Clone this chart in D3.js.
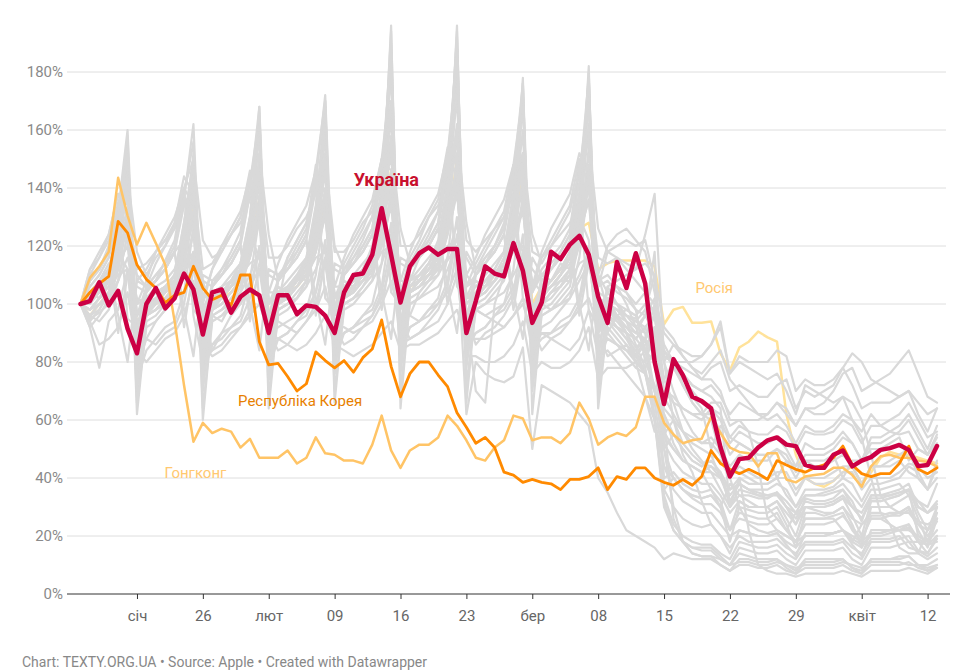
<!DOCTYPE html>
<html><head><meta charset="utf-8">
<script src="https://cdn.jsdelivr.net/npm/d3@7"></script>
<style>
html,body{margin:0;padding:0;background:#fff;}
svg{display:block;font-family:Roboto,"Noto Sans",sans-serif;}
</style></head>
<body><svg id="chart" width="976" height="671"></svg>
<script>
// ---------- DATA ----------
const startDate = new Date(2020, 0, 13);
const endDate = new Date(2020, 3, 13);
const dates = d3.timeDay.range(startDate, d3.timeDay.offset(endDate, 1));

const yTicks = [0, 20, 40, 60, 80, 100, 120, 140, 160, 180];
const xTickDates = [new Date(2020,0,19), new Date(2020,0,26), new Date(2020,1,2), new Date(2020,1,9),
  new Date(2020,1,16), new Date(2020,1,23), new Date(2020,2,1), new Date(2020,2,8), new Date(2020,2,15),
  new Date(2020,2,22), new Date(2020,2,29), new Date(2020,3,5), new Date(2020,3,12)];
const xTickLabels = ["січ","26","лют","09","16","23","бер","08","15","22","29","квіт","12"];

const ukraine = [
100,101,107.5,99.5,104.5,91.5,83,
100,105.5,98.5,102,110.5,105,89.5,
104,105,97,102.5,105,103,90,
103,103,96.5,99.5,99,96,90,
104,110,110.5,117,133,117,100.5,
113,117.5,119.5,117,119,119,90,
101,113,110.5,109.5,121,111.5,93.5,
100.5,118,115.5,120.5,123.5,117,102.5,
93.5,114.5,105.5,117.5,107,80,65.5,
81,75.5,68,66.5,64,50.5,40.5,
46.5,47,50.5,53,54,51.5,51,
44.5,43.5,43.5,48,49.5,44,46,
47.2,49.7,50.3,51.4,49.7,44.1,44.5,
51];

const korea = [
100,104,107,109.5,128.5,124.5,113.5,
108.5,105.5,100.5,103,104,113,105.5,
101.5,103,99.5,110,110,87,79,
79.5,75,70,72.5,83.5,80.5,78,
80.5,76.5,81.5,84.5,94.5,78.5,68,
76,80,80,75.5,71.5,62.5,57.5,
52,54,50.5,42,41,38.5,39.5,
38.5,38,36,39.5,39.5,40.5,43.5,
36,40.5,39.5,43.5,43.5,40,38.5,
37.5,39.5,37.5,40.5,49.5,45,43,
41.5,43,41.5,39.5,46,44.5,43,
42,43.5,44.5,47,51,44.5,41.5,
40.5,41.5,41.5,45,51,43,41.5,
43.5];

const hongKong = [
100,109,113,118,143.5,130.5,120.5,
128,121,113.5,94,72,52.5,59,
55.5,57,56,50.5,53.5,47,47,
47,49.5,45,47,54,48.5,48,
46,46,45,51.5,61.5,49.5,43.5,
49.5,51.5,51.5,54,61.5,58,53,
47,46,50.5,53,61.5,60.5,53,
54,54,52,55.5,66,60.5,51.5,
54,55.5,54.5,57.5,68,68,59,
55,52,53,53.5,61,55.5,50.5,
49,48.5,44,48.5,48.5,39.5,38.5,
40.5,41,41.5,43.5,43.5,41,37,
44,47.5,48,47,47,46,45.5,
44];

const russia = [
100,96,100,104,114,130,92,
98,100,102,106,116,134,94,
100,102,104,108,118,136,96,
102,104,106,110,120,138,98,
104,106,108,112,124,146,100,
106,108,110,114,126,150,102,
104,106,110,114,124,144,100,
106,108,112,116,126,128,112,
114,115,115,115,115,113,93,
98,99,93.5,93.5,94,83,77,
85,87,90.5,88.5,87,62,48,
40,38,37,39,42,44,38,
42,47,49,48,48,47,46,
45];

// other countries (grey)
const grey01 = [100,104,106,112,125,158,72, 98,102,105,110,128,150,70, 100,103,108,114,130,165,74, 102,104,109,115,133,168,76, 104,108,112,120,140,190,78, 106,110,114,122,142,192,80, 104,108,112,118,138,175,78, 102,106,110,116,132,178,76, 98,95,92,90,96,118,50, 55,50,46,44,46,42,30, 36,35,34,34,35,30,24, 33,32,32,33,36,32,25, 34,34,35,36,38,30,28, 30];
const grey02 = [100,98,102,108,120,140,78, 96,100,104,108,122,138,74, 98,102,106,112,126,150,76, 100,103,108,112,128,152,80, 102,105,110,116,134,170,82, 104,108,112,118,136,172,84, 102,106,110,114,130,160,80, 100,104,108,112,128,162,78, 96,92,90,85,88,100,55, 60,52,48,45,44,40,32, 38,36,35,34,34,30,26, 32,31,31,32,34,30,26, 33,33,34,35,36,30,28, 31];
const grey03 = [100,103,105,108,118,145,75, 97,101,104,107,120,142,72, 99,102,106,110,124,150,74, 101,104,108,112,128,158,78, 103,106,110,114,132,165,80, 104,108,110,112,115,120,62, 80,76,74,73,75,85,50, 72,70,68,66,62,58,40, 35,28,22,20,18,16,12, 14,13,12,12,12,10,8, 10,10,9,9,10,8,7, 9,9,9,9,10,8,7, 10,10,10,10,11,9,8, 9];
const grey04 = [100,102,104,110,122,150,85, 98,100,104,108,124,148,82, 100,102,106,112,128,160,86, 102,104,108,114,132,165,88, 104,106,110,116,136,180,90, 106,108,112,118,140,185,92, 104,106,110,116,136,170,88, 104,108,112,118,138,175,90, 100,98,96,95,90,60,30, 22,18,16,15,15,12,10, 14,13,12,12,12,10,8, 12,12,12,12,12,9,8, 12,12,12,13,13,10,9, 10];
const grey05 = [100,110,112,120,135,95,92, 105,108,115,122,140,98,94, 106,112,118,125,145,100,96, 108,114,120,126,148,102,98, 110,116,122,130,150,104,100, 112,118,124,132,152,106,102, 110,116,120,128,145,102,98, 106,112,116,122,138,98,92, 100,96,90,82,88,70,62, 55,50,46,44,48,40,36, 38,36,34,33,35,30,28, 30,29,28,28,30,26,24, 28,28,27,27,29,25,24, 26];
const grey06 = [100,98,102,104,112,128,96, 100,100,104,106,114,130,98, 102,104,106,108,116,132,100, 104,105,108,110,118,134,102, 106,108,110,112,120,138,104, 104,106,108,110,116,128,98, 98,96,94,92,96,102,84, 90,88,86,84,88,98,82, 88,86,84,84,88,96,80, 86,84,82,82,86,92,76, 80,78,76,74,76,70,62, 72,70,68,66,68,60,56, 62,58,56,55,56,50,48, 55];
const grey07 = [100,104,108,112,118,126,110, 106,110,114,118,122,130,108, 96,94,100,104,110,118,102, 98,100,102,106,112,120,104, 100,102,104,108,114,124,106, 100,102,104,106,112,120,104, 98,100,102,104,110,116,100, 96,98,100,102,108,114,98, 94,92,90,88,92,96,82, 80,78,76,74,78,80,70, 72,70,68,68,72,74,64, 70,68,70,72,78,83,80, 74,72,70,68,70,66,62, 64];
const grey08 = [100,92,96,102,118,125,90, 88,94,98,104,120,130,92, 96,98,100,106,124,132,94, 98,100,102,108,126,135,96, 100,102,106,112,132,140,100, 96,104,108,114,134,142,102, 102,104,108,112,130,138,98, 104,106,110,116,134,144,104, 102,100,96,94,92,82,68, 62,56,52,50,48,46,40, 44,42,40,40,42,42,36, 40,38,38,39,42,42,36, 40,40,40,42,45,44,40, 42];
const grey09 = [100,102,106,112,124,140,80, 98,100,104,110,126,142,82, 100,102,106,112,128,146,84, 100,104,108,114,132,150,86, 102,106,110,116,136,158,88, 104,108,112,118,138,162,90, 102,106,108,114,134,152,86, 104,108,112,118,138,160,90, 106,108,110,112,124,138,82, 80,72,66,62,60,48,40, 30,24,22,21,22,20,18, 20,20,20,21,22,19,17, 20,20,21,22,23,18,17, 18];
const grey10 = [100,103,107,112,126,155,82, 100,102,106,110,128,150,80, 102,104,108,114,130,160,84, 102,106,110,116,134,162,86, 104,108,112,118,138,170,90, 106,110,114,120,142,178,88, 104,108,112,118,138,172,86, 104,106,110,116,136,170,84, 100,98,96,94,98,110,60, 26,18,14,13,13,10,8, 12,12,11,11,12,9,7, 11,11,11,11,12,9,7, 12,12,12,12,13,10,8, 10];
const grey11 = [100,102,104,108,120,140,88, 98,100,104,108,122,142,86, 100,102,106,110,124,145,90, 100,104,106,112,126,148,92, 102,106,108,114,130,155,94, 104,108,110,116,132,158,96, 102,106,108,114,128,150,92, 100,104,106,112,126,148,90, 96,94,92,88,92,96,70, 68,64,62,60,64,62,54, 58,56,55,55,58,56,50, 56,55,55,56,60,58,52, 58,58,60,62,66,60,54, 56];
const grey12 = [100,96,98,104,116,150,62, 94,96,100,104,118,152,60, 96,98,102,106,122,168,64, 98,100,104,108,124,170,66, 100,102,106,110,130,196,64, 102,104,108,112,132,196,66, 100,102,106,110,128,178,62, 98,100,104,108,126,182,64, 94,90,86,82,80,92,36, 40,36,34,33,34,30,18, 30,29,28,28,30,24,16, 28,28,27,28,30,24,16, 30,30,30,32,34,26,18, 28];
const grey13 = [100,95,97,100,112,146,66, 92,94,98,102,116,148,64, 94,96,100,104,118,160,68, 96,98,102,106,120,162,70, 98,100,104,108,126,186,70, 100,102,106,110,128,188,72, 98,100,104,108,124,170,70, 96,98,102,106,122,172,70, 92,88,84,80,78,84,40, 42,38,36,35,36,32,22, 32,30,30,30,32,26,20, 30,30,30,31,33,27,20, 32,32,33,34,36,28,22, 30];
const grey14 = [100,106,110,116,130,138,96, 104,108,112,118,134,140,98, 106,110,114,120,138,144,100, 108,112,116,122,140,148,102, 110,114,118,124,144,152,104, 108,116,120,126,146,156,106, 110,114,118,124,142,150,104, 112,116,120,126,148,158,108, 110,106,100,92,84,70,56, 50,46,44,42,42,40,34, 38,36,36,36,38,36,30, 36,36,36,37,40,38,32, 38,38,39,40,44,42,36, 40];
const grey15 = [100,102,104,108,118,112,86, 100,104,106,110,122,114,88, 102,104,108,112,124,116,90, 104,106,110,114,126,118,92, 106,108,112,116,130,120,94, 108,110,114,118,134,140,96, 70,66,100,110,126,118,90, 106,108,112,116,130,122,94, 104,106,104,100,104,96,74, 66,56,50,46,42,36,30, 34,34,33,33,35,32,28, 34,34,35,36,38,34,30, 36,36,37,38,34,32,30, 38];
const grey16 = [100,100,104,108,118,128,84, 98,102,104,108,120,130,86, 100,104,106,110,122,134,88, 102,104,108,112,124,136,90, 104,106,110,114,128,140,92, 106,108,112,116,130,144,94, 104,108,110,114,128,140,92, 104,106,110,116,130,142,94, 102,100,98,96,84,70,52, 46,42,40,38,38,34,28, 32,30,30,30,32,28,24, 30,30,30,31,33,30,26, 32,32,33,34,36,32,28, 32];
const grey17 = [100,108,112,118,128,136,108, 112,118,122,126,134,140,112, 114,120,124,128,136,142,116, 116,120,126,130,138,146,118, 118,122,128,132,140,150,120, 120,124,130,134,142,152,122, 118,122,126,130,138,146,118, 116,120,124,128,136,144,116, 114,116,112,108,104,100,84, 80,74,70,66,64,60,52, 56,54,52,52,54,50,44, 52,50,50,52,56,52,46, 54,54,56,58,62,56,50, 58];
const grey18 = [100,92,78,94,98,112,78, 88,86,90,92,100,118,80, 86,88,92,94,102,120,82, 88,90,94,96,104,122,84, 90,92,96,98,106,128,86, 92,94,98,100,108,130,88, 90,92,96,98,104,124,84, 88,90,94,96,102,120,82, 84,80,76,72,68,60,44, 36,32,30,28,28,24,20, 22,21,20,20,21,18,16, 20,20,20,21,22,18,16, 21,21,22,22,24,19,17, 20];
const grey19 = [100,98,100,102,108,116,102, 100,102,104,106,112,118,100, 84,86,90,92,96,100,90, 88,86,84,86,90,96,86, 84,82,84,86,90,94,84, 86,86,88,90,94,98,88, 88,88,90,92,96,100,90, 90,90,92,94,98,102,92, 88,86,84,82,86,90,82, 80,76,72,70,72,68,62, 66,64,62,62,66,62,58, 64,62,62,64,68,66,60, 48,34,30,28,28,24,22, 26];
const grey20 = [100,104,106,110,122,130,92, 102,106,108,112,124,132,94, 104,106,110,114,126,136,96, 104,108,112,116,128,138,98, 106,110,114,118,132,144,100, 108,112,116,120,134,146,102, 106,110,114,118,130,140,98, 106,108,112,116,130,142,98, 104,100,96,92,90,86,70, 66,64,62,62,66,66,58, 60,60,60,62,66,64,58, 64,64,66,70,76,78,70, 72,74,76,80,84,76,68, 66];
const grey21 = [100,102,104,106,110,112,100, 102,104,106,108,112,114,102, 104,106,108,110,114,116,104, 104,106,108,110,116,118,106, 106,108,110,112,118,120,108, 108,110,112,114,120,122,110, 106,108,110,112,118,120,108, 104,106,108,108,114,116,100, 90,96,98,96,100,98,86, 80,76,72,70,68,64,30, 40,22,10,8,7,7,6, 7,7,7,7,8,7,6, 8,8,8,8,9,8,7, 9];
const grey22 = [100,104,108,114,90,110,106, 104,108,112,118,92,112,108, 106,110,114,120,94,114,110, 108,112,116,122,96,116,112, 110,114,118,124,98,118,114, 112,116,120,126,100,120,116, 110,114,118,124,98,118,112, 108,112,116,120,96,114,110, 104,106,104,98,80,90,84, 78,72,68,64,50,58,54, 52,50,48,48,40,46,44, 46,46,46,48,40,46,46, 50,50,52,54,46,50,48, 52];
const grey23 = [100,96,100,104,114,132,76, 96,98,102,106,118,136,78, 98,100,104,108,120,142,80, 100,102,106,110,122,146,82, 102,104,108,112,126,156,84, 104,106,110,114,128,160,86, 102,104,108,112,124,150,82, 100,104,106,110,122,154,84, 98,96,92,88,84,80,50, 40,36,33,31,31,28,22, 26,25,24,24,26,22,18, 24,24,24,25,27,23,19, 26,26,27,28,30,24,20, 25];
const grey24 = [100,98,102,106,120,152,70, 96,98,102,106,122,150,72, 98,100,104,108,126,166,74, 100,102,106,110,128,168,76, 102,104,108,112,134,194,76, 104,106,110,114,136,194,78, 102,104,108,112,132,176,74, 100,102,106,110,130,180,74, 96,92,88,84,76,60,32, 22,18,16,16,16,13,10, 16,15,14,14,15,12,10, 15,15,15,15,16,12,10, 16,16,16,17,18,14,12, 14];
const grey25 = [100,104,106,108,116,126,90, 100,104,106,110,118,128,92, 102,104,108,112,120,130,94, 102,106,108,112,122,132,96, 104,108,110,114,126,136,98, 106,108,112,116,128,140,100, 104,108,110,114,124,134,96, 104,106,110,114,124,136,96, 100,98,94,90,88,82,64, 60,56,54,52,54,50,44, 48,46,46,46,50,48,42, 48,48,48,50,54,52,46, 52,52,54,56,60,54,48, 54];
const grey26 = [100,108,112,118,124,132,112, 114,118,124,130,140,96,80, 84,90,96,100,106,112,96, 94,92,90,94,98,106,92, 92,90,92,94,100,108,94, 96,94,96,100,104,112,98, 98,96,98,100,106,114,100, 100,98,100,104,110,118,102, 100,96,94,92,96,102,90, 86,82,78,76,80,84,74, 70,66,62,60,62,58,52, 58,56,56,58,62,60,54, 40,28,24,22,22,20,18, 22];
const grey27 = [100,110,116,124,138,132,96, 106,114,120,128,144,138,100, 112,118,124,130,146,140,102, 100,116,122,128,142,136,98, 114,120,126,134,150,146,104, 116,122,130,136,154,148,106, 114,120,126,132,148,142,104, 116,122,128,134,150,146,106, 118,120,122,120,122,108,82, 80,72,66,62,62,56,48, 52,50,48,48,50,46,40, 46,44,44,46,48,44,38, 44,44,44,46,42,40,36, 44];
const grey28 = [100,94,86,88,92,104,84, 80,84,88,90,96,108,86, 82,84,88,92,98,112,90, 84,86,90,94,100,114,92, 86,88,92,96,104,120,94, 88,90,94,98,106,124,96, 86,90,92,96,102,118,92, 84,88,90,94,100,116,90, 82,84,86,80,76,70,50, 30,18,14,13,13,12,10, 11,11,10,10,11,10,9, 10,10,10,10,11,10,9, 11,11,11,11,10,10,10, 12];
const grey29 = [100,106,110,116,134,150,78, 104,108,112,118,138,156,80, 106,110,116,122,142,164,82, 108,112,118,124,146,170,84, 110,114,120,126,150,178,86, 112,116,122,128,152,182,88, 110,114,120,126,148,172,84, 108,112,118,124,146,170,82, 102,96,90,82,76,62,34, 24,20,18,17,17,14,12, 18,17,16,16,17,14,12, 17,17,17,17,18,14,12, 18,18,18,19,20,15,13, 16];
const grey30 = [100,104,102,108,114,120,96, 102,100,106,104,112,124,98, 104,102,108,106,116,128,100, 106,104,110,108,118,130,102, 108,106,112,110,120,134,104, 110,108,114,112,124,138,106, 108,106,112,110,122,132,104, 110,108,114,112,124,136,106, 108,104,102,98,96,90,80, 70,62,56,52,52,48,42, 42,40,38,38,40,34,30, 34,34,34,35,36,30,28, 34,34,34,35,36,20,18, 30];
const grey31 = [100,112,116,122,134,144,118, 110,116,120,126,140,150,122, 116,118,124,130,142,152,124, 108,116,122,128,140,150,120, 112,118,124,130,144,156,126, 114,120,126,132,146,158,128, 112,118,124,130,142,152,124, 114,120,126,132,146,156,126, 118,116,114,112,114,110,92, 88,82,78,74,74,70,60, 60,56,44,26,22,20,18, 20,20,20,21,22,20,18, 21,21,22,22,18,18,17, 20];
const grey32 = [100,96,94,98,108,124,74, 84,88,92,94,104,126,76, 86,90,92,96,108,130,78, 88,90,94,98,110,134,80, 90,92,96,100,114,140,82, 92,94,98,102,116,144,84, 90,92,96,100,112,138,82, 92,94,98,102,116,142,84, 90,86,82,78,76,66,44, 40,36,34,33,34,30,22, 28,27,26,26,28,22,18, 26,26,26,27,28,22,18, 27,27,28,28,30,22,16, 26];
const grey33 = [100,96,100,102,108,124,94, 98,100,102,104,110,126,96, 94,96,98,100,106,118,90, 92,94,96,98,104,116,88, 90,92,94,96,102,114,86, 88,90,92,94,100,110,82, 82,80,80,82,86,94,76, 80,78,78,80,84,92,74, 78,78,78,80,84,92,74, 80,80,80,82,86,94,76, 82,80,80,80,84,82,70, 74,72,72,74,78,72,64, 66,66,66,68,70,62,56, 64];
const grey34 = [100,108,112,118,132,160,84, 106,110,114,120,136,162,86, 108,112,116,122,138,168,88, 110,114,118,124,142,172,90, 112,116,120,126,146,186,92, 114,118,122,128,148,188,94, 112,116,120,126,144,176,90, 110,114,118,124,142,178,90, 106,100,94,86,78,60,36, 30,26,24,23,24,20,14, 22,21,20,20,21,17,13, 21,21,21,21,22,17,13, 22,22,22,23,24,18,14, 19];
const grey35 = [100,94,98,104,112,130,86, 96,98,100,106,114,132,88, 98,100,104,108,116,136,90, 100,102,106,110,118,140,92, 102,104,108,112,122,146,94, 104,106,110,114,124,150,96, 102,104,108,112,120,144,92, 100,104,106,110,120,146,92, 96,92,88,82,80,72,54, 50,46,44,42,44,42,36, 40,38,38,38,40,40,34, 40,40,40,42,44,44,38, 44,44,46,48,50,40,36, 46];
const grey36 = [100,104,106,112,96,80,108, 106,108,112,118,98,82,110, 108,110,114,120,100,84,112, 110,112,116,122,102,86,114, 112,114,118,124,104,88,116, 114,116,120,126,106,90,118, 112,114,118,124,104,88,116, 110,112,116,120,100,84,110, 98,94,90,80,68,56,62, 52,46,44,42,36,30,38, 34,32,30,30,26,22,28, 26,26,26,26,22,18,24, 26,26,24,16,14,14,22, 26];
const grey37 = [100,112,118,124,138,130,100, 108,118,122,128,140,134,102, 112,120,126,132,144,136,104, 114,122,128,134,146,138,106, 116,124,130,136,150,142,108, 118,126,132,138,152,144,110, 116,124,130,136,148,140,106, 118,126,132,138,152,144,110, 120,124,126,122,118,104,80, 60,48,42,32,24,20,16, 20,18,18,18,19,16,14, 18,18,18,18,19,16,14, 19,19,19,20,16,15,14, 20];
const greySeries = [grey01,grey02,grey03,grey04,grey05,grey06,grey07,grey08,grey09,grey10,grey11,grey12,grey13,
  grey14,grey15,grey16,grey17,grey18,grey19,grey20,grey21,grey22,grey23,grey24,grey25,grey26,grey27,grey28,
  grey29,grey30,grey31,grey32,grey33,grey34,grey35,grey36,grey37];

// ---------- CHART ----------
const svg = d3.select("#chart");
const x = d3.scaleTime().domain([startDate, endDate]).range([80.5, 937]);
const y = d3.scaleLinear().domain([0, 180]).range([594, 72]);
const gridLeft = 67, gridRight = 946;

// gridlines
svg.append("g").selectAll("line").data(yTicks.filter(d => d > 0)).join("line")
  .attr("x1", gridLeft).attr("x2", gridRight)
  .attr("y1", d => y(d)).attr("y2", d => y(d))
  .attr("stroke", "#dedede").attr("stroke-width", 1);

// y labels
svg.append("g").selectAll("text").data(yTicks).join("text")
  .attr("x", 63).attr("y", d => y(d)).attr("dy", "0.35em")
  .attr("text-anchor", "end").attr("font-size", 15).attr("fill", "#8a8a8a")
  .text(d => d + "%");

const line = d3.line().x((d, i) => x(dates[i])).y(d => y(d)).curve(d3.curveLinear);

const lines = svg.append("g").attr("fill", "none").attr("stroke-linejoin", "round").attr("stroke-linecap", "round");
lines.append("path").datum(russia).attr("d", line).attr("stroke", "#ffe29a").attr("stroke-width", 2.5);
lines.selectAll(".grey").data(greySeries).join("path").attr("class", "grey")
  .attr("d", line).attr("stroke", "#d9d9d9").attr("stroke-width", 2.2);
lines.append("path").datum(hongKong).attr("d", line).attr("stroke", "#ffc466").attr("stroke-width", 2.5);
lines.append("path").datum(korea).attr("d", line).attr("stroke", "#ff8a00").attr("stroke-width", 2.8);
lines.append("path").datum(ukraine).attr("d", line).attr("stroke", "#cc0044").attr("stroke-width", 4.5);

// baseline
svg.append("line").attr("x1", gridLeft).attr("x2", 950).attr("y1", y(0)).attr("y2", y(0))
  .attr("stroke", "#333").attr("stroke-width", 1);

// x axis
const xAxis = d3.axisBottom(x).tickValues(xTickDates)
  .tickFormat((d, i) => xTickLabels[i]).tickSize(5).tickPadding(11);
const gx = svg.append("g").attr("transform", `translate(0,${y(0)})`).call(xAxis);
gx.select(".domain").remove();
gx.selectAll(".tick line").attr("stroke", "#333");
gx.selectAll(".tick text").attr("font-size", 15).attr("fill", "#666").attr("font-family", "Roboto, sans-serif");

// labels
svg.append("text").attr("x", x(new Date(2020,1,14,12))).attr("y", y(143)).attr("dy", "0.35em")
  .attr("text-anchor", "middle").attr("font-size", 18).attr("font-weight", "bold").attr("fill", "#c8102e").text("Україна");
svg.append("text").attr("x", x(new Date(2020,1,5,8))).attr("y", y(66.5)).attr("dy", "0.35em")
  .attr("text-anchor", "middle").attr("font-size", 15).attr("fill", "#e77f00").text("Республіка Корея");
svg.append("text").attr("x", x(new Date(2020,0,25,5))).attr("y", y(41.7)).attr("dy", "0.35em")
  .attr("text-anchor", "middle").attr("font-size", 15).attr("fill", "#ffc870").text("Гонгконг");
svg.append("text").attr("x", x(new Date(2020,2,20,8))).attr("y", y(105.5)).attr("dy", "0.35em")
  .attr("text-anchor", "middle").attr("font-size", 15).attr("fill", "#ffc870").text("Росія");

// footer
svg.append("text").attr("x", 22).attr("y", 667).attr("font-size", 14).attr("fill", "#888")
  .text("Chart: TEXTY.ORG.UA • Source: Apple • Created with Datawrapper");
</script>
</body></html>
